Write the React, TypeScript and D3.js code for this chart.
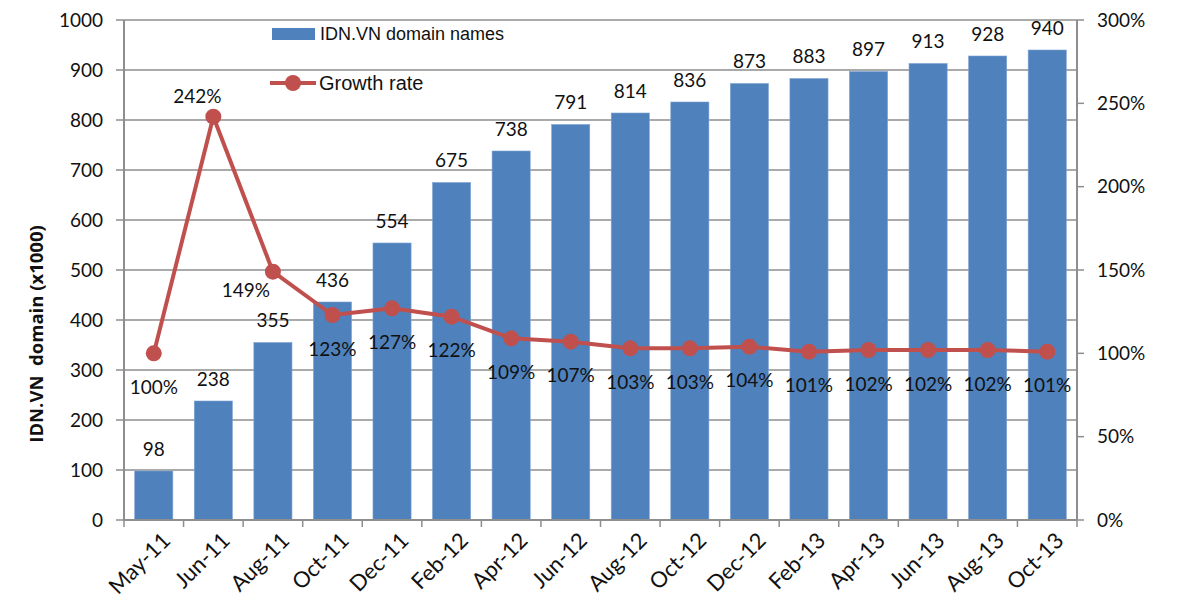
import React, { useEffect, useRef } from "react";
import * as d3 from "d3";

const months = [
  "May-11", "Jun-11", "Aug-11", "Oct-11", "Dec-11", "Feb-12", "Apr-12", "Jun-12",
  "Aug-12", "Oct-12", "Dec-12", "Feb-13", "Apr-13", "Jun-13", "Aug-13", "Oct-13",
];
const domains = [98, 238, 355, 436, 554, 675, 738, 791, 814, 836, 873, 883, 897, 913, 928, 940];
const growth = [100, 242, 149, 123, 127, 122, 109, 107, 103, 103, 104, 101, 102, 102, 102, 101];
const leftTicks = [0, 100, 200, 300, 400, 500, 600, 700, 800, 900, 1000];
const rightTicks = [0, 50, 100, 150, 200, 250, 300];

const FONT = "Lato, 'Open Sans', sans-serif";
const BLUE = "#4F81BD";
const RED = "#C0504D";
const GRID = "#8e8e8e";

const App = () => {
  const chartRef = useRef(null);

  useEffect(() => {
    document.body.style.margin = "0";
    drawChart();
  }, []);

  const drawChart = () => {
    const svg = d3.select(chartRef.current);
    svg.selectAll("*").remove();

    const width = 1177;
    const height = 607;
    const margin = { top: 20, right: 100, bottom: 87, left: 124 };

    const x = d3
      .scaleBand()
      .domain(months)
      .range([margin.left, width - margin.right])
      .paddingInner(0.36)
      .paddingOuter(0.18);
    const step = x.step();
    const cx = (m) => x(m) + x.bandwidth() / 2;

    const y = d3
      .scaleLinear()
      .domain([0, 1000])
      .range([height - margin.bottom, margin.top]);
    const y2 = d3
      .scaleLinear()
      .domain([0, 300])
      .range([height - margin.bottom, margin.top]);

    const x0 = margin.left;
    const x1 = width - margin.right;

    // gridlines
    svg
      .append("g")
      .selectAll("line")
      .data(leftTicks.slice(1))
      .join("line")
      .attr("x1", x0)
      .attr("x2", x1)
      .attr("y1", (d) => y(d))
      .attr("y2", (d) => y(d))
      .attr("stroke", GRID)
      .attr("stroke-width", 1.5);

    // bars
    svg
      .append("g")
      .selectAll("rect")
      .data(domains)
      .join("rect")
      .attr("x", (d, i) => x(months[i]))
      .attr("y", (d) => y(d))
      .attr("width", x.bandwidth())
      .attr("height", (d) => y(0) - y(d))
      .attr("fill", BLUE)
      .attr("stroke", "#7ea3d3")
      .attr("stroke-width", 0.6);

    // bar labels
    svg
      .append("g")
      .selectAll("text")
      .data(domains)
      .join("text")
      .attr("x", (d, i) => cx(months[i]))
      .attr("y", (d) => y(d) - 22)
      .attr("dy", "0.35em")
      .attr("text-anchor", "middle")
      .style("font-family", FONT)
      .style("font-size", "19px")
      .attr("fill", "#111")
      .text((d) => d);

    // left axis
    const gl = svg.append("g");
    gl.append("line")
      .attr("x1", x0).attr("x2", x0)
      .attr("y1", y(1000)).attr("y2", y(0))
      .attr("stroke", GRID).attr("stroke-width", 2);
    gl.selectAll("line.t")
      .data(leftTicks)
      .join("line")
      .attr("class", "t")
      .attr("x1", x0 - 8).attr("x2", x0)
      .attr("y1", (d) => y(d)).attr("y2", (d) => y(d))
      .attr("stroke", GRID).attr("stroke-width", 1.5);
    gl.selectAll("text")
      .data(leftTicks)
      .join("text")
      .attr("x", x0 - 21)
      .attr("y", (d) => y(d))
      .attr("dy", "0.35em")
      .attr("text-anchor", "end")
      .style("font-family", FONT)
      .style("font-size", "19px")
      .attr("fill", "#111")
      .text((d) => d);

    // right axis
    const gr = svg.append("g");
    gr.append("line")
      .attr("x1", x1).attr("x2", x1)
      .attr("y1", y2(300)).attr("y2", y2(0))
      .attr("stroke", GRID).attr("stroke-width", 2);
    gr.selectAll("line.t")
      .data(rightTicks)
      .join("line")
      .attr("class", "t")
      .attr("x1", x1).attr("x2", x1 + 7)
      .attr("y1", (d) => y2(d)).attr("y2", (d) => y2(d))
      .attr("stroke", GRID).attr("stroke-width", 1.5);
    gr.selectAll("text")
      .data(rightTicks)
      .join("text")
      .attr("x", x1 + 20)
      .attr("y", (d) => y2(d))
      .attr("dy", "0.35em")
      .attr("text-anchor", "start")
      .style("font-family", FONT)
      .style("font-size", "19px")
      .attr("fill", "#111")
      .text((d) => d + "%");

    // bottom axis
    const gb = svg.append("g");
    gb.append("line")
      .attr("x1", x0).attr("x2", x1)
      .attr("y1", y(0)).attr("y2", y(0))
      .attr("stroke", GRID).attr("stroke-width", 2);
    gb.selectAll("line.t")
      .data(d3.range(months.length + 1))
      .join("line")
      .attr("class", "t")
      .attr("x1", (i) => x0 + i * step)
      .attr("x2", (i) => x0 + i * step)
      .attr("y1", y(0)).attr("y2", y(0) + 7)
      .attr("stroke", GRID).attr("stroke-width", 1.5);
    gb.selectAll("text")
      .data(months)
      .join("text")
      .attr("transform", (d) => `translate(${cx(d) + 7},${y(0) + 11}) rotate(-45)`)
      .attr("dy", "0.7em")
      .attr("text-anchor", "end")
      .style("font-family", FONT)
      .style("font-size", "22px")
      .attr("fill", "#111")
      .text((d) => d);

    // y axis title
    svg
      .append("text")
      .attr("transform", `translate(37,334) rotate(-90)`)
      .attr("dy", "0.35em")
      .attr("text-anchor", "middle")
      .style("font-family", "'Open Sans', sans-serif")
      .style("font-size", "18.5px")
      .style("font-weight", "bold")
      .style("white-space", "pre")
      .attr("fill", "#111")
      .text("IDN.VN  domain (x1000)");

    // growth line
    const line = d3
      .line()
      .x((d, i) => cx(months[i]))
      .y((d) => y2(d));

    svg
      .append("path")
      .datum(growth)
      .attr("fill", "none")
      .attr("stroke", RED)
      .attr("stroke-width", 4)
      .attr("stroke-linejoin", "round")
      .attr("d", line);

    svg
      .append("g")
      .selectAll("circle")
      .data(growth)
      .join("circle")
      .attr("cx", (d, i) => cx(months[i]))
      .attr("cy", (d) => y2(d))
      .attr("r", 8)
      .attr("fill", RED);

    // growth labels: mostly below the marker, peak above
    const labelOffset = (i) => {
      if (i === 1) return [-16, -20];
      if (i === 2) return [-27, 19];
      return [0, 34];
    };
    svg
      .append("g")
      .selectAll("text")
      .data(growth)
      .join("text")
      .attr("x", (d, i) => cx(months[i]) + labelOffset(i)[0])
      .attr("y", (d, i) => y2(d) + labelOffset(i)[1])
      .attr("dy", "0.35em")
      .attr("text-anchor", "middle")
      .style("font-family", FONT)
      .style("font-size", "19px")
      .attr("fill", "#111")
      .text((d) => d + "%");

    // legend
    const lg = svg.append("g");
    lg.append("rect")
      .attr("x", 272).attr("y", 28)
      .attr("width", 43).attr("height", 12)
      .attr("fill", BLUE);
    lg.append("text")
      .attr("x", 320).attr("y", 34)
      .attr("dy", "0.35em")
      .style("font-family", "'Liberation Sans', Arial, sans-serif")
      .style("font-size", "18px")
      .attr("fill", "#111")
      .text("IDN.VN domain names");
    lg.append("line")
      .attr("x1", 270).attr("x2", 316)
      .attr("y1", 83).attr("y2", 83)
      .attr("stroke", RED).attr("stroke-width", 4);
    lg.append("circle")
      .attr("cx", 293).attr("cy", 83).attr("r", 8)
      .attr("fill", RED);
    lg.append("text")
      .attr("x", 319).attr("y", 83)
      .attr("dy", "0.35em")
      .style("font-family", "'Liberation Sans', Arial, sans-serif")
      .style("font-size", "20px")
      .attr("fill", "#111")
      .text("Growth rate");
  };

  return (
    <div>
      <svg ref={chartRef} width={1177} height={607} style={{ display: "block" }}></svg>
    </div>
  );
};

export default App;
